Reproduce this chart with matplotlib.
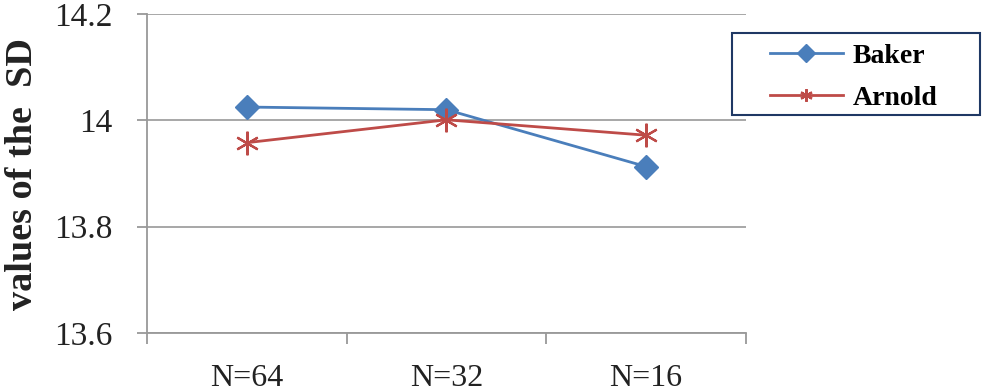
import matplotlib.pyplot as plt
from matplotlib.patches import Rectangle
from matplotlib.ticker import FixedLocator

# data
categories = ["N=64", "N=32", "N=16"]
baker = [14.025, 14.02, 13.913]
arnold = [13.958, 14.001, 13.972]

plt.rcParams["font.family"] = ["Liberation Serif", "DejaVu Serif"]

fig = plt.figure(figsize=(9.84, 3.91), dpi=100)
ax = fig.add_axes([0.1494, 0.1483, 0.6087, 0.8159])

x = range(len(categories))
ax.plot(x, baker, color="#4a7ebb", lw=2, marker="D", ms=12, label="Baker")
ax.plot(x, arnold, color="#be4b48", lw=2, marker=(6, 2, 0), ms=17, mew=1.6,
        label="Arnold")

ax.set_ylim(13.6, 14.2)
ax.set_yticks([13.6, 13.8, 14.0, 14.2])
ax.set_yticklabels(["13.6", "13.8", "14", "14.2"])
ax.set_xlim(-0.5, 2.5)
ax.set_xticks(list(x))
ax.set_xticklabels(categories)
ax.xaxis.set_minor_locator(FixedLocator([-0.5, 0.5, 1.5, 2.5]))

ax.grid(axis="y", color="#a0a0a0", lw=1.3)
ax.set_axisbelow(True)
for s in ["top", "right"]:
    ax.spines[s].set_visible(False)
for s in ["left", "bottom"]:
    ax.spines[s].set_color("#999999")
    ax.spines[s].set_linewidth(1.3)

ax.tick_params(axis="y", which="major", length=7, width=1.3, color="#999999",
               labelsize=24, pad=18, labelcolor="#222222")
ax.tick_params(axis="x", which="major", length=0, labelsize=23, pad=22,
               labelcolor="#222222")
ax.tick_params(axis="x", which="minor", length=8, width=1.3, color="#999999")

ax.set_ylabel("values of the  SD", fontsize=27.5, fontweight="bold", labelpad=10,
              color="#222222")

# legend box drawn separately so its padding can match the reference
fig.patches.append(Rectangle((732 / 984, 1 - 115 / 391), 248 / 984, 82 / 391,
                             transform=fig.transFigure, fill=False,
                             edgecolor="#1f3864", lw=1.5))
leg = fig.legend(loc="upper left", bbox_to_anchor=(762 / 984, 1 - 35 / 391),
                 frameon=False, prop={"weight": "bold", "size": 20},
                 handlelength=2.6, borderpad=0.3, labelspacing=0.6,
                 handletextpad=0.35, borderaxespad=0)
for h in leg.legend_handles:
    h.set_markersize(9)

fig.savefig("out.png", dpi=100)
